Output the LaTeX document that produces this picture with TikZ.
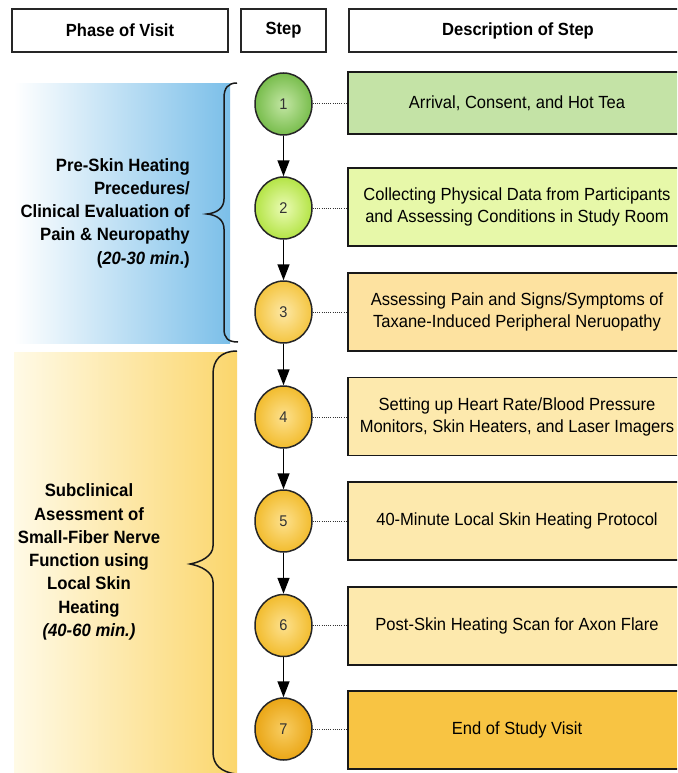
\documentclass[tikz,border=0pt]{standalone}
\usepackage{fontspec}
\setmainfont{Liberation Sans}[FakeStretch=0.94]
\usetikzlibrary{arrows.meta,shapes.geometric}
\definecolor{bluep}{HTML}{7BBFE9}
\definecolor{yelL}{HTML}{FFFAE6}
\definecolor{yelR}{HTML}{FBD66C}
\definecolor{b1}{HTML}{C4E3A6}
\definecolor{b2}{HTML}{E7F8A9}
\definecolor{b3}{HTML}{FDE2A0}
\definecolor{b4}{HTML}{FDE9AD}
\definecolor{b7}{HTML}{F8C443}
\definecolor{c1o}{HTML}{78BD4C}
\definecolor{c1i}{HTML}{C3E6A4}
\definecolor{c2o}{HTML}{B4E446}
\definecolor{c2i}{HTML}{EAFBB4}
\definecolor{c3o}{HTML}{F4C541}
\definecolor{c3i}{HTML}{FDE8A6}
\definecolor{c4o}{HTML}{F2BC2E}
\definecolor{c4i}{HTML}{FDE18E}
\definecolor{c7o}{HTML}{EAA616}
\definecolor{c7i}{HTML}{F8CD62}
\begin{document}
\begin{tikzpicture}[x=1pt,y=-1pt,
  hdr/.style={draw=black!85, line width=1.6pt, fill=white, inner sep=0pt,
    font=\fontsize{17.6}{21}\selectfont\bfseries},
  stepnode/.style={ellipse, draw=black!85, line width=1.5pt, minimum width=57pt,
    minimum height=62pt, inner sep=0pt, text=black!80,
    font=\fontsize{15.5}{17}\selectfont},
  descbox/.style={draw=black!90, line width=1.8pt, minimum width=338pt, minimum height=78pt,
    inner sep=0pt, align=center, font=\fontsize{17.6}{22}\selectfont},
  arr/.style={line width=1.5pt, -{Triangle[length=16pt,width=12pt]}},
  dotline/.style={line width=1pt, black!80, dash pattern=on 1pt off 1.2pt},
  bracestyle/.style={line width=1.5pt, black!90},
  phasetxt/.style={inner sep=0pt, font=\fontsize{17.8}{23.3}\selectfont\bfseries}]
\useasboundingbox (0,0) rectangle (677,773);
\clip (0,0) rectangle (677,773);
\fill[white] (0,0) rectangle (677,773);

% headers
\node[hdr, minimum width=216pt, minimum height=43pt] (hphase) at (120,30.5) {Phase of Visit};
\node[hdr, minimum width=85pt, minimum height=43pt] (hstep) at (283.5,30.5) {Step};
\node[hdr, minimum width=338pt, minimum height=43pt] (hdesc) at (518,30.5) {Description of Step};

% phase panels
\shade[left color=white, right color=bluep] (14,84) rectangle (230,343);
\shade[left color=yelL, right color=yelR] (14,352) rectangle (237,773);

% braces
\draw[bracestyle] (237,83) .. controls (228,83) and (224,88) .. (224,98) -- (224,199)
  .. controls (224,208) and (217,213) .. (207,214)
  .. controls (217,215) and (224,220) .. (224,229) -- (224,329)
  .. controls (224,338) and (228,342) .. (238,342);
\draw[bracestyle] (237,351) .. controls (221,351) and (213,360) .. (213,374) -- (213,546)
  .. controls (213,556) and (201,562) .. (190,564)
  .. controls (201,566) and (213,572) .. (213,582) -- (213,752)
  .. controls (213,765) and (221,772) .. (236,774);

% phase labels
\node[phasetxt, align=right, anchor=east] (ph1) at (190,213)
  {Pre-Skin Heating\\Precedures/\\Clinical Evaluation of\\Pain \& Neuropathy\\(\textit{20-30 min}.)};
\node[phasetxt, align=center] (ph2) at (89,562)
  {Subclinical\\Asessment of\\Small-Fiber Nerve\\Function using\\Local Skin\\Heating\\\textit{(40-60 min.)}};

% description boxes
\node[descbox, fill=b1, minimum height=62pt] (d1) at (517,103) {Arrival, Consent, and Hot Tea};
\node[descbox, fill=b2] (d2) at (517,207) {Collecting Physical Data from Participants\\and Assessing Conditions in Study Room};
\node[descbox, fill=b3] (d3) at (517,312) {Assessing Pain and Signs/Symptoms of\\Taxane-Induced Peripheral Neruopathy};
\node[descbox, fill=b4] (d4) at (517,416.5) {Setting up Heart Rate/Blood Pressure\\Monitors, Skin Heaters, and Laser Imagers};
\node[descbox, fill=b4] (d5) at (517,521) {40-Minute Local Skin Heating Protocol};
\node[descbox, fill=b4] (d6) at (517,626) {Post-Skin Heating Scan for Axon Flare};
\node[descbox, fill=b7] (d7) at (517,730) {End of Study Visit};

% step circles
\node[stepnode, inner color=c1i, outer color=c1o] (s1) at (283.5,104) {1};
\node[stepnode, inner color=c2i, outer color=c2o] (s2) at (283.5,208) {2};
\node[stepnode, inner color=c3i, outer color=c3o] (s3) at (283.5,312) {3};
\node[stepnode, inner color=c4i, outer color=c4o] (s4) at (283.5,417) {4};
\node[stepnode, inner color=c4i, outer color=c4o] (s5) at (283.5,521) {5};
\node[stepnode, inner color=c4i, outer color=c4o] (s6) at (283.5,625.5) {6};
\node[stepnode, inner color=c7i, outer color=c7o] (s7) at (283.5,729) {7};

% arrows
\foreach \a/\b in {s1/s2,s2/s3,s3/s4,s4/s5,s5/s6,s6/s7}
  \draw[arr] (\a) -- (\b);

% dotted connectors
\foreach \i in {1,...,7}
  \draw[dotline] (s\i.east) -- (s\i.east -| d\i.west);
\end{tikzpicture}
\end{document}
